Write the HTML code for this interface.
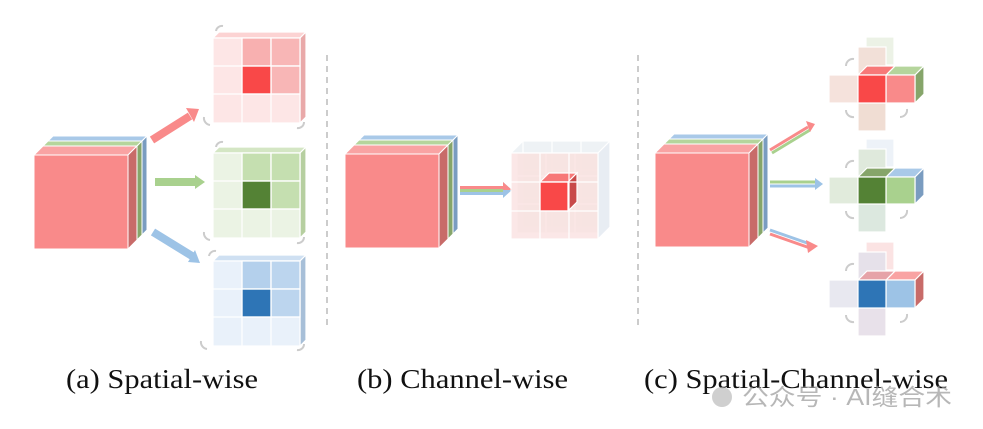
<!DOCTYPE html>
<html><head><meta charset="utf-8"><style>
html,body{margin:0;padding:0;background:#fff;width:983px;height:429px;overflow:hidden}
svg{display:block}
text{font-family:"Liberation Serif",serif;font-size:27px;fill:#111}
</style></head><body>
<svg width="983" height="429" viewBox="0 0 983 429" xmlns="http://www.w3.org/2000/svg">

<!-- ===== Panel a: main cube ===== -->
<g stroke="#fff" stroke-width="1">
  <polygon points="44,145 53,136 147,136 138,145" fill="#a9c9e8"/>
  <polygon points="138,145 147,136 147,230 138,239" fill="#7a9cc0"/>
  <polygon points="39,150 48,141 142,141 133,150" fill="#b5d59c"/>
  <polygon points="133,150 142,141 142,235 133,244" fill="#86a56a"/>
  <polygon points="34,155 43,146 137,146 128,155" fill="#f9a3a3"/>
  <polygon points="128,155 137,146 137,240 128,249" fill="#c86b69"/>
  <rect x="34" y="155" width="94" height="94" fill="#f98a8a"/>
</g>
<g stroke-width="8" fill="none">
  <line x1="152" y1="140" x2="190" y2="116" stroke="#f98a8a"/>
  <line x1="155" y1="182" x2="196" y2="182" stroke="#a9d18e"/>
  <line x1="153" y1="232" x2="192" y2="256" stroke="#9dc3e6"/>
</g>
<polygon points="186,108 199,109 194,122" fill="#f98a8a"/>
<polygon points="195,175 205,182 195,189" fill="#a9d18e"/>
<polygon points="188,262 200,263 195,250" fill="#9dc3e6"/>

<g stroke="#fff" stroke-width="1.2">
  <polygon points="213,38 219,32 306,32 300,38" fill="#fcd3d3"/>
  <polygon points="300,38 306,32 306,117 300,123" fill="#e9a9a9"/>
  <rect x="213" y="38" width="87" height="85" fill="#fde6e6"/>
  <rect x="242" y="38" width="29" height="28" fill="#f8b0b0"/>
  <rect x="271" y="38" width="29" height="28" fill="#f8b6b6"/>
  <rect x="271" y="66" width="29" height="28" fill="#f8b6b6"/>
  <rect x="242" y="66" width="29" height="28" fill="#f94848"/>
  <path d="M242,38V123M271,38V123M213,66H300M213,94H300" fill="none"/>
  <polygon points="213,153 219,147 306,147 300,153" fill="#d4e6c4"/>
  <polygon points="300,153 306,147 306,232 300,238" fill="#b6cfa0"/>
  <rect x="213" y="153" width="87" height="85" fill="#ebf3e4"/>
  <rect x="242" y="153" width="29" height="28" fill="#c5dfb0"/>
  <rect x="271" y="153" width="29" height="28" fill="#c5dfb0"/>
  <rect x="271" y="181" width="29" height="28" fill="#c5dfb0"/>
  <rect x="242" y="181" width="29" height="28" fill="#548235"/>
  <path d="M242,153V238M271,153V238M213,181H300M213,209H300" fill="none"/>
  <polygon points="213,261 219,255 306,255 300,261" fill="#cfe0f2"/>
  <polygon points="300,261 306,255 306,340 300,346" fill="#a7bfd8"/>
  <rect x="213" y="261" width="87" height="85" fill="#e9f1fa"/>
  <rect x="242" y="261" width="29" height="28" fill="#b4d0ec"/>
  <rect x="271" y="261" width="29" height="28" fill="#bcd5ee"/>
  <rect x="271" y="289" width="29" height="28" fill="#bcd5ee"/>
  <rect x="242" y="289" width="29" height="28" fill="#2e75b6"/>
  <path d="M242,261V346M271,261V346M213,289H300M213,317H300" fill="none"/>
</g>
<g stroke="#ccc" stroke-width="2" fill="none">
  <path d="M216,31 a6,6 0 0 1 7,-5"/><path d="M204,117 a7,7 0 0 0 6,8"/><path d="M297,128 a6,6 0 0 0 7,-6"/>
  <path d="M216,147 a6,6 0 0 1 7,-5"/><path d="M204,232 a7,7 0 0 0 6,8"/><path d="M297,243 a6,6 0 0 0 7,-6"/>
  <path d="M209,256 a6,6 0 0 1 7,-5"/><path d="M201,341 a7,7 0 0 0 6,8"/><path d="M297,350 a6,6 0 0 0 7,-6"/>
</g>

<line x1="327" y1="55" x2="327" y2="325" stroke="#bbb" stroke-width="1.5" stroke-dasharray="6,5"/>
<line x1="638" y1="55" x2="638" y2="325" stroke="#bbb" stroke-width="1.5" stroke-dasharray="6,5"/>

<!-- ===== Panel b ===== -->
<g stroke="#fff" stroke-width="1">
  <polygon points="355,144 364,135 458,135 449,144" fill="#a9c9e8"/>
  <polygon points="449,144 458,135 458,229 449,238" fill="#7a9cc0"/>
  <polygon points="350,149 359,140 453,140 444,149" fill="#b5d59c"/>
  <polygon points="444,149 453,140 453,234 444,243" fill="#86a56a"/>
  <polygon points="345,154 354,145 448,145 439,154" fill="#f9a3a3"/>
  <polygon points="439,154 448,145 448,239 439,248" fill="#c86b69"/>
  <rect x="345" y="154" width="94" height="94" fill="#f98a8a"/>
</g>
<rect x="460" y="186" width="44" height="3" fill="#f98a8a"/>
<rect x="460" y="189" width="44" height="3" fill="#a9d18e"/>
<rect x="460" y="192" width="44" height="3" fill="#9dc3e6"/>
<polygon points="503,182 512,190 503,198" fill="#9dc3e6"/>
<polygon points="503,182 512,190 503,190" fill="#f98a8a"/>
<g stroke="#fff" stroke-width="1.2">
  <rect x="523" y="141" width="87" height="86" fill="#e8eff8" opacity="0.9"/>
  <path d="M552,141V227M581,141V227M523,170H610M523,198H610" fill="none"/>
  <rect x="517" y="147" width="87" height="86" fill="#e0ead8" opacity="0.7"/>
  <path d="M546,147V233M575,147V233M517,176H604M517,204H604" fill="none"/>
  <polygon points="511,153 523,141 610,141 598,153" fill="#eef2f5"/>
  <polygon points="598,153 610,141 610,227 598,239" fill="#e8edf3"/>
  <rect x="511" y="153" width="87" height="86" fill="#fbe3e3" opacity="0.85"/>
  <polygon points="540,182 549,173 577,173 568,182" fill="#f77878"/>
  <polygon points="568,182 577,173 577,202 568,211" fill="#c84a4a"/>
  <rect x="540" y="182" width="28" height="29" fill="#f94848"/>
  <path d="M540,153V239M569,153V239M511,182H598M511,211H598M523,141V153M552,141V153M581,141V153" fill="none"/>
</g>

<!-- ===== Panel c ===== -->
<g stroke="#fff" stroke-width="1">
  <polygon points="665,143 674,134 768,134 759,143" fill="#a9c9e8"/>
  <polygon points="759,143 768,134 768,228 759,237" fill="#7a9cc0"/>
  <polygon points="660,148 669,139 763,139 754,148" fill="#b5d59c"/>
  <polygon points="754,148 763,139 763,233 754,242" fill="#86a56a"/>
  <polygon points="655,153 664,144 758,144 749,153" fill="#f9a3a3"/>
  <polygon points="749,153 758,144 758,238 749,247" fill="#c86b69"/>
  <rect x="655" y="153" width="94" height="94" fill="#f98a8a"/>
</g>
<g stroke-width="3" fill="none">
  <line x1="770" y1="150" x2="808" y2="127" stroke="#f98a8a"/>
  <line x1="772" y1="153" x2="810" y2="130" stroke="#a9d18e"/>
  <line x1="770" y1="182" x2="815" y2="182" stroke="#a9d18e"/>
  <line x1="770" y1="186" x2="815" y2="186" stroke="#9dc3e6"/>
  <line x1="770" y1="230" x2="810" y2="244" stroke="#9dc3e6"/>
  <line x1="770" y1="234" x2="810" y2="248" stroke="#f98a8a"/>
</g>
<polygon points="806,121 815,124 810,132" fill="#f98a8a"/>
<polygon points="815,178 823,184 815,190" fill="#9dc3e6"/>
<polygon points="806,240 818,246 808,253" fill="#f98a8a"/>

<g stroke="#fff" stroke-width="1.2">
  <rect x="866" y="37" width="28" height="28" fill="#eaf1e4" opacity="0.9"/>
  <rect x="858" y="47" width="28" height="28" fill="#f2e0d8"/>
  <rect x="829" y="75" width="29" height="28" fill="#f5e2dc"/>
  <rect x="858" y="103" width="28" height="28" fill="#f0ddd3"/>
  <polygon points="886,75 895,66 924,66 915,75" fill="#b5d59c"/>
  <polygon points="915,75 924,66 924,94 915,103" fill="#86a56a"/>
  <polygon points="858,75 867,66 895,66 886,75" fill="#f77878"/>
  <rect x="886" y="75" width="29" height="28" fill="#f98a8a"/>
  <rect x="858" y="75" width="28" height="28" fill="#f94848"/>
  <rect x="866" y="139" width="28" height="28" fill="#edf2f8"/>
  <rect x="858" y="149" width="28" height="28" fill="#dfe9dc"/>
  <rect x="829" y="177" width="29" height="27" fill="#e1ebdc"/>
  <rect x="858" y="204" width="28" height="28" fill="#dce8df"/>
  <polygon points="886,177 895,168 924,168 915,177" fill="#a9c9e8"/>
  <polygon points="915,177 924,168 924,195 915,204" fill="#7a9cc0"/>
  <polygon points="858,177 867,168 895,168 886,177" fill="#86a56a"/>
  <rect x="886" y="177" width="29" height="27" fill="#a9d18e"/>
  <rect x="858" y="177" width="28" height="27" fill="#548235"/>
  <rect x="866" y="242" width="28" height="28" fill="#fbe3e3"/>
  <rect x="858" y="252" width="28" height="28" fill="#e6e1ea"/>
  <rect x="829" y="280" width="29" height="28" fill="#e8e8f0"/>
  <rect x="858" y="308" width="28" height="28" fill="#e8e1ea"/>
  <polygon points="886,280 895,271 924,271 915,280" fill="#f9a3a3"/>
  <polygon points="915,280 924,271 924,299 915,308" fill="#c86b69"/>
  <polygon points="858,280 867,271 895,271 886,280" fill="#e6a3a8"/>
  <rect x="886" y="280" width="29" height="28" fill="#9dc3e6"/>
  <rect x="858" y="280" width="28" height="28" fill="#2e75b6"/>
</g>
<g stroke="#ccc" stroke-width="2" fill="none">
  <path d="M846,66 a7,7 0 0 1 8,-7"/><path d="M846,110 a7,7 0 0 0 8,7"/><path d="M900,117 a7,7 0 0 0 7,-8"/>
  <path d="M846,168 a7,7 0 0 1 8,-7"/><path d="M846,211 a7,7 0 0 0 8,7"/><path d="M900,218 a7,7 0 0 0 7,-8"/>
  <path d="M846,271 a7,7 0 0 1 8,-7"/><path d="M846,315 a7,7 0 0 0 8,7"/><path d="M900,322 a7,7 0 0 0 7,-8"/>
</g>

<text x="66" y="388" textLength="192" lengthAdjust="spacingAndGlyphs">(a) Spatial-wise</text>
<text x="357" y="388" textLength="211" lengthAdjust="spacingAndGlyphs">(b) Channel-wise</text>
<text x="644" y="388" textLength="304" lengthAdjust="spacingAndGlyphs">(c) Spatial-Channel-wise</text>
<text x="742" y="405" textLength="210" lengthAdjust="spacingAndGlyphs" style="font-family:'Liberation Sans','Noto Sans CJK SC',sans-serif;font-size:23px;fill:#999;opacity:0.7">公众号 · AI缝合术</text>
<circle cx="722" cy="397" r="10" fill="#bbb" opacity="0.7"/>
</svg>
</body></html>
